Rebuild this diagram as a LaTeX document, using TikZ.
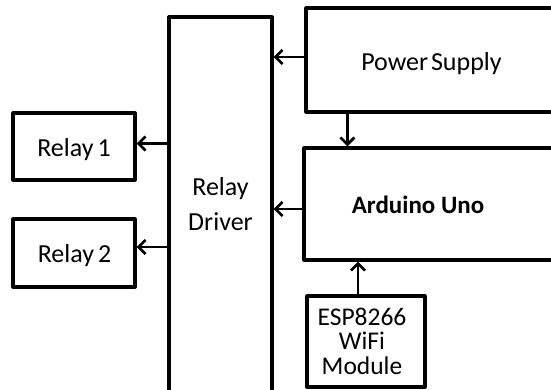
\documentclass[tikz,border=0pt]{standalone}
\usepackage{fontspec}
\setmainfont{Carlito}
\usepackage{tikz}
\usetikzlibrary{arrows.meta}

\tikzset{
  blk/.style={draw,line width=3.2pt,rectangle,inner sep=0pt},
  lbl/.style={inner sep=0pt,font=\fontsize{26}{26}\selectfont},
}

\begin{document}
\begin{tikzpicture}[line cap=round,line join=round,>={Straight Barb[length=7pt,width=14pt]},x=1pt,y=-1pt]
\clip(0.,0.) rectangle (551.,389.);

\node [blk,minimum width=122pt,minimum height=67pt] (relayA) at (74.,146.5) {};
\node [blk,minimum width=122pt,minimum height=68pt] (relayB) at (74.,253.) {};
\node [blk,minimum width=103pt,minimum height=403pt] (drv) at (220.5,218.5) {};
\node [blk,minimum width=294pt,minimum height=104pt] (psu) at (453.,60.) {};
\node [blk,minimum width=296pt,minimum height=112pt] (uno) at (452.,204.) {};
\node [blk,minimum width=118pt,minimum height=91pt] (esp) at (366.,341.5) {};

\node [lbl,anchor=base] (relayAtxt) at (74.,156.) {Relay\hspace{-2pt} 1};
\node [lbl,anchor=base] (relayBtxt) at (74.5,262.) {Relay\hspace{-2pt} 2};
\node [lbl,align=center,font=\fontsize{26}{35}\selectfont] (drvtxt) at (220.5,204.) {Relay\\Driver};
\node [lbl,anchor=base] (psutxt) at (431.5,70.) {Power\hspace{-3pt} Supply};
\node [lbl,anchor=base,font=\fontsize{25}{25}\selectfont\bfseries] (unotxt) at (418.,213.) {Arduino Uno};
\node [lbl,align=center,font=\fontsize{25.5}{24.5}\selectfont] (esptxt) at (362.,341.) {ESP8266\\WiFi\\Module};

\draw [->,line width=2.7pt] ([yshift=3pt]psu.west) -- ([yshift=3pt]psu.west -| drv.east);
\draw [->,line width=2.7pt] ([yshift=-5pt]uno.west) -- ([yshift=-5pt]uno.west -| drv.east);
\draw [->,line width=2.7pt] ([yshift=3pt]relayA.east -| drv.west) -- ([yshift=3pt]relayA.east);
\draw [->,line width=2.7pt] ([yshift=6pt]relayB.east -| drv.west) -- ([yshift=6pt]relayB.east);
\draw [->,line width=2.7pt] ([xshift=43pt]psu.south west) -- ([xshift=43pt]psu.south west |- uno.north);
\draw [->,line width=2.7pt] ([xshift=-8pt]esp.north) -- ([xshift=-8pt]esp.north |- uno.south);
\end{tikzpicture}
\end{document}
